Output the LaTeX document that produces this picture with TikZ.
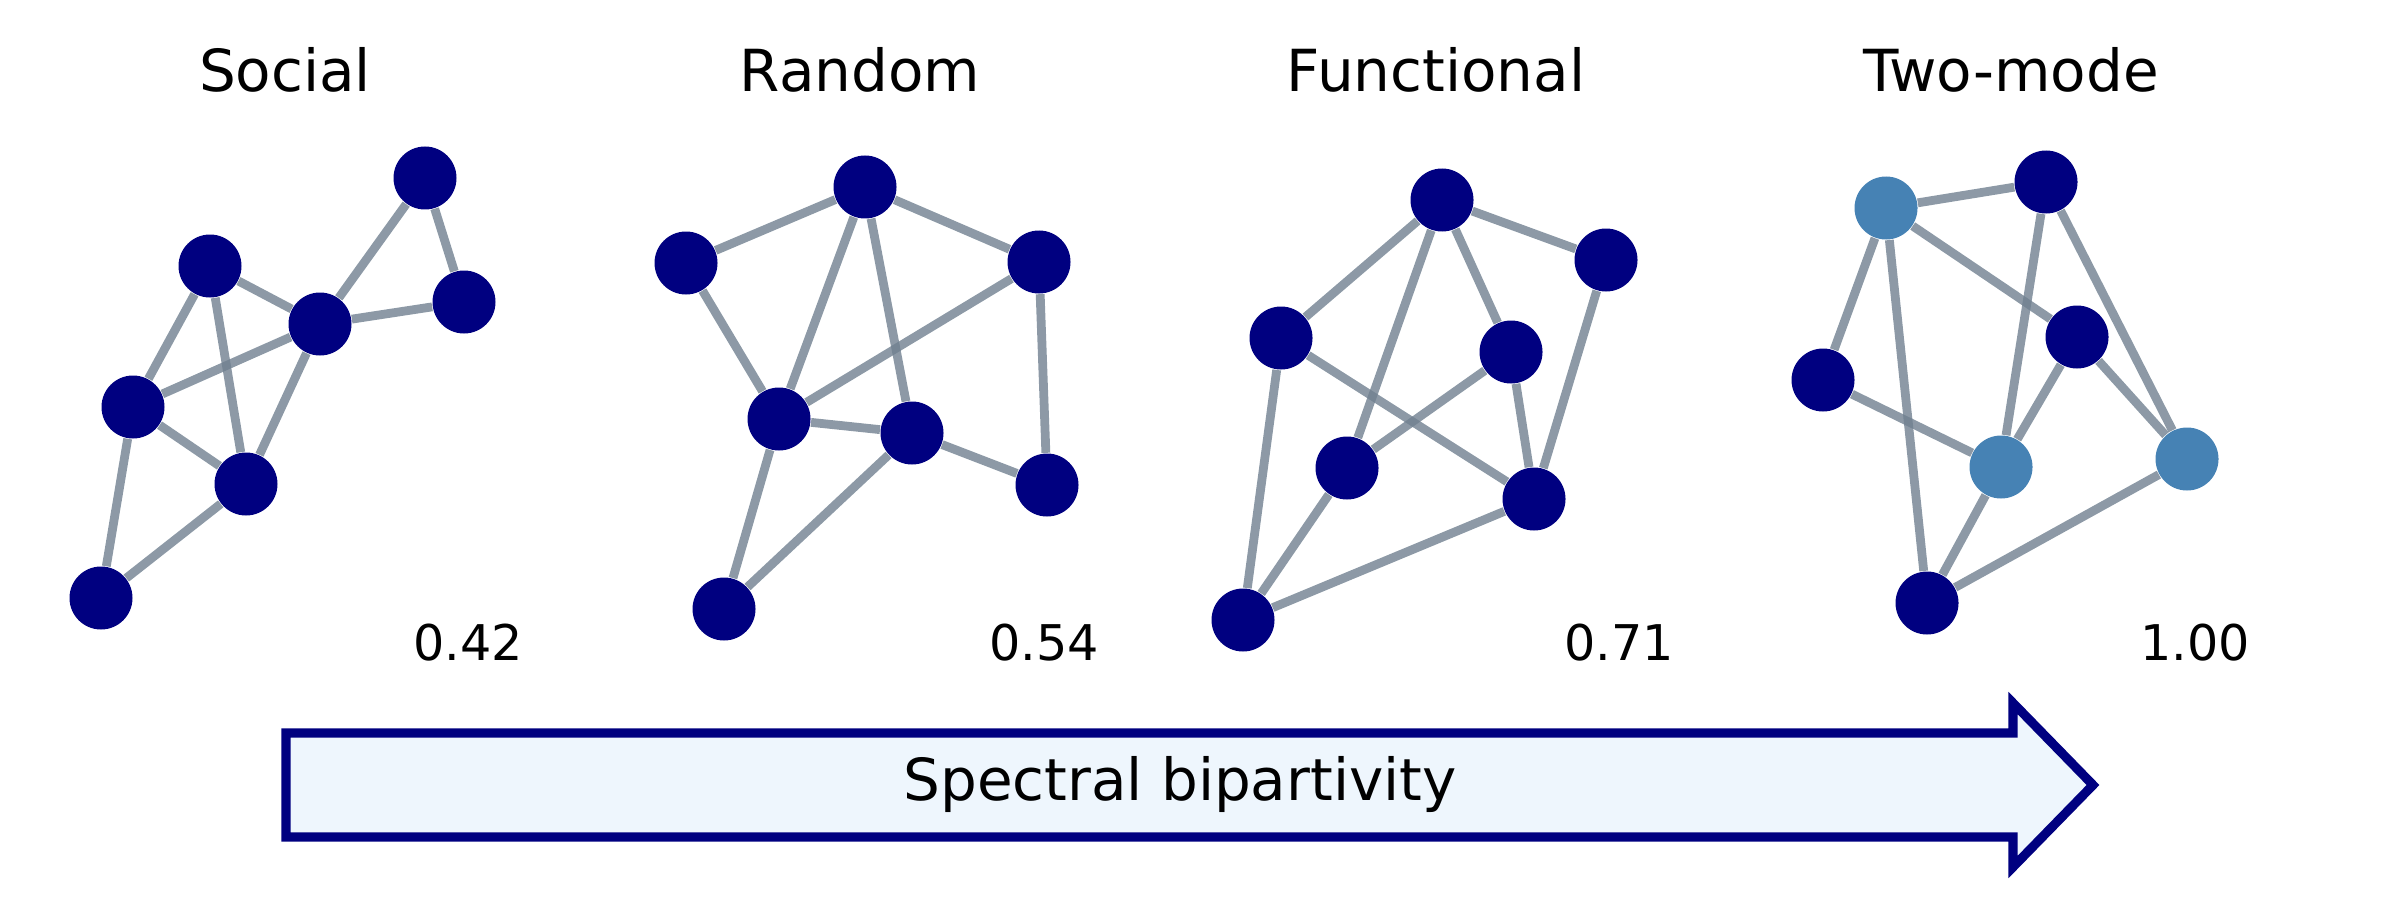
\documentclass[tikz,border=0pt]{standalone}
\usepackage{fontspec}
\setmainfont{DejaVu Sans}
\usepackage{xcolor}
\usetikzlibrary{shapes,arrows,positioning,calc,arrows.meta}
\definecolor{navy}{HTML}{000080}
\definecolor{steel}{HTML}{4682B4}
\definecolor{slate}{HTML}{708090}
\definecolor{pale}{HTML}{EEF6FD}

\begin{document}
\begin{tikzpicture}[vertex/.style={circle, fill=navy, minimum size=0.63cm, inner sep=0pt},
    hub/.style={vertex, fill=steel},
    link/.style={draw=slate, draw opacity=0.8, line width=2.5pt},
    title/.style={font=\fontsize{16.5}{20}\selectfont},
    score/.style={font=\fontsize{14}{17}\selectfont}]
    \useasboundingbox (0,0) rectangle (24,9);

    % titles and scores
    \node[title] (tsoc) at (2.85,8.30) {Social};
    \node[title] (tran) at (8.60,8.30) {Random};
    \node[title] (tfun) at (14.36,8.30) {Functional};
    \node[title] (ttwo) at (20.11,8.30) {Two-mode};
    \node[score] (vsoc) at (4.68,2.57) {0.42};
    \node[score] (vran) at (10.44,2.57) {0.54};
    \node[score] (vfun) at (16.19,2.57) {0.71};
    \node[score] (vtwo) at (21.95,2.57) {1.00};

    % social
    \node[vertex] (s1) at (4.25,7.22) {};
    \node[vertex] (s2) at (4.64,5.98) {};
    \node[vertex] (s3) at (2.10,6.34) {};
    \node[vertex] (s4) at (3.20,5.76) {};
    \node[vertex] (s5) at (1.33,4.93) {};
    \node[vertex] (s6) at (2.46,4.16) {};
    \node[vertex] (s7) at (1.01,3.02) {};
    \foreach \a/\b in {s1/s4, s1/s2, s3/s4, s4/s2, s3/s5, s3/s6, s5/s4, s5/s6, s6/s4, s5/s7, s7/s6}
        \draw[link] (\a) -- (\b);

    % random
    \node[vertex] (r1) at (6.86,6.37) {};
    \node[vertex] (r2) at (8.65,7.13) {};
    \node[vertex] (r3) at (10.39,6.38) {};
    \node[vertex] (r4) at (7.79,4.81) {};
    \node[vertex] (r5) at (9.12,4.67) {};
    \node[vertex] (r6) at (10.47,4.15) {};
    \node[vertex] (r7) at (7.24,2.91) {};
    \foreach \a/\b in {r1/r2, r2/r3, r1/r4, r2/r4, r2/r5, r3/r4, r3/r6, r4/r5, r5/r6, r4/r7, r7/r5}
        \draw[link] (\a) -- (\b);

    % functional
    \node[vertex] (f1) at (14.42,7.00) {};
    \node[vertex] (f2) at (16.06,6.40) {};
    \node[vertex] (f3) at (12.81,5.62) {};
    \node[vertex] (f4) at (15.11,5.48) {};
    \node[vertex] (f5) at (13.47,4.32) {};
    \node[vertex] (f6) at (15.34,4.01) {};
    \node[vertex] (f7) at (12.43,2.80) {};
    \foreach \a/\b in {f1/f2, f1/f3, f1/f5, f1/f4, f3/f6, f3/f7, f4/f5, f4/f6, f2/f6, f5/f7, f7/f6}
        \draw[link] (\a) -- (\b);

    % two-mode
    \node[hub] (m1) at (18.86,6.92) {};
    \node[vertex] (m2) at (20.46,7.18) {};
    \node[vertex] (m3) at (20.77,5.63) {};
    \node[vertex] (m4) at (18.23,5.20) {};
    \node[hub] (m5) at (20.01,4.33) {};
    \node[hub] (m6) at (21.87,4.41) {};
    \node[vertex] (m7) at (19.27,2.97) {};
    \foreach \a/\b in {m1/m2, m1/m3, m1/m4, m1/m7, m2/m5, m2/m6, m3/m5, m3/m6, m4/m5, m5/m7, m7/m6}
        \draw[link] (\a) -- (\b);

    % arrow
    \draw[navy, line width=2.6pt, fill=pale, line join=miter]
        (2.86,0.63) -- (2.86,1.67) -- (20.13,1.67) -- (20.13,1.97) -- (20.93,1.15)
        -- (20.13,0.33) -- (20.13,0.63) -- cycle;
    \node[title] (bip) at (11.80,1.16) {Spectral bipartivity};
\end{tikzpicture}
\end{document}
